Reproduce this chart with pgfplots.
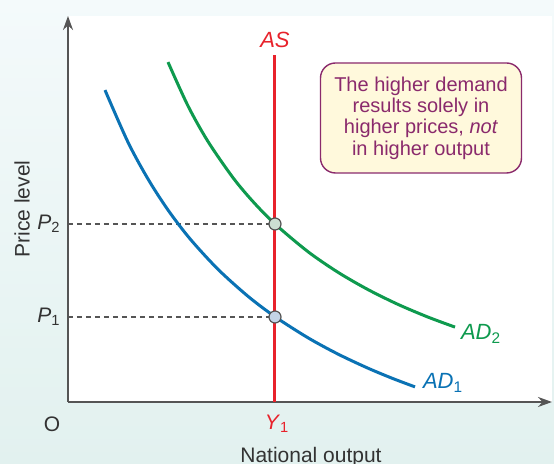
\documentclass[border=0pt]{standalone}
\usepackage{fontspec}
\setmainfont{Liberation Sans}
\usepackage{pgfplots}
\pgfplotsset{compat=1.18}
\usetikzlibrary{arrows.meta}

\definecolor{asred}{HTML}{E8222B}
\definecolor{adblue}{HTML}{0A72B4}
\definecolor{adgreen}{HTML}{0E9A4E}
\definecolor{axgrey}{HTML}{555555}
\definecolor{txgrey}{HTML}{333333}
\definecolor{boxpurple}{HTML}{8A2A6C}
\definecolor{boxfill}{HTML}{FFF9DC}
\definecolor{bgtop}{HTML}{F4FAFB}
\definecolor{bgbot}{HTML}{E2F1EF}
\definecolor{ptblue}{HTML}{C3D3E6}
\definecolor{ptgreen}{HTML}{CCDFD2}

\begin{document}
\begin{tikzpicture}
% page background: 554 x 464 px at 0.5pt per px, axis origin at (68,402) px
\shade[top color=bgtop, bottom color=bgbot] (-34pt,-31pt) rectangle (243pt,201pt);
\useasboundingbox (-34pt,-31pt) rectangle (243pt,201pt);
\begin{axis}[
    scale only axis,
    width=242pt, height=193pt,
    xmin=0, xmax=484,
    ymin=0, ymax=386,
    axis lines=left,
    axis line style={axgrey, line width=1pt, -{Stealth[length=7pt,width=5pt]}},
    ticks=none,
    axis background/.style={fill=white},
    clip=false,
    font=\fontsize{10.5}{12}\selectfont,
]
% dashed guides
\addplot[axgrey, line width=0.55pt, dash pattern=on 2.5pt off 2pt] coordinates {(0,178) (207,178)};
\addplot[axgrey, line width=0.55pt, dash pattern=on 2.5pt off 2pt] coordinates {(0,85) (207,85)};

% AD1
\addplot[adblue, line width=1.5pt, smooth] coordinates {
    (37,311.9) (60,259.8) (80,223.0) (100,192.0) (122,163.2) (150,132.7)
    (180,105.7) (207,85.3) (240,64.2) (270,47.9) (300,33.8) (325,23.4) (347,15.1)
};
% AD2
\addplot[adgreen, line width=1.5pt, smooth] coordinates {
    (100,339.9) (120,296.1) (140,260.5) (165,224.3) (185,200.4) (207,178.0)
    (240,150.3) (270,129.7) (300,112.4) (330,97.6) (360,84.9) (387,74.9)
};
% AS
\addplot[asred, line width=1.5pt] coordinates {(207,0) (207,347)};

% equilibrium points
\addplot[only marks, mark=*, mark size=3pt, mark options={fill=ptgreen, draw=axgrey, line width=0.6pt}] coordinates {(207,178)};
\addplot[only marks, mark=*, mark size=3pt, mark options={fill=ptblue, draw=axgrey, line width=0.6pt}] coordinates {(207,85)};

% labels
\node[text=asred, font=\fontsize{11}{12}\selectfont\itshape] at (axis cs:207,362) {AS};
\node[text=adgreen, font=\fontsize{11}{12}\selectfont, anchor=west] at (axis cs:386,68) {\textit{AD}\textsubscript{2}};
\node[text=adblue, font=\fontsize{11}{12}\selectfont, anchor=west] at (axis cs:348,19) {\textit{AD}\textsubscript{1}};
\node[text=asred] at (axis cs:209,-22) {\textit{Y}\textsubscript{1}};
\node[text=txgrey] at (axis cs:-19,178) {\textit{P}\textsubscript{2}};
\node[text=txgrey] at (axis cs:-19,85) {\textit{P}\textsubscript{1}};
\node[text=txgrey] at (axis cs:-16,-22) {O};
\node[text=txgrey, rotate=90] at (axis cs:-46,193) {Price level};
\node[text=txgrey] at (axis cs:243,-55) {National output};

% annotation box
\node[draw=boxpurple, fill=boxfill, line width=0.7pt, rounded corners=7.5pt,
      text=boxpurple, align=center, minimum width=100.5pt, minimum height=55pt,
      inner sep=2pt, font=\fontsize{10}{10.7}\selectfont]
    at (axis cs:353,284)
    {The higher demand\\results solely in\\higher prices, \textit{not}\\in higher output};
\end{axis}
\end{tikzpicture}
\end{document}
